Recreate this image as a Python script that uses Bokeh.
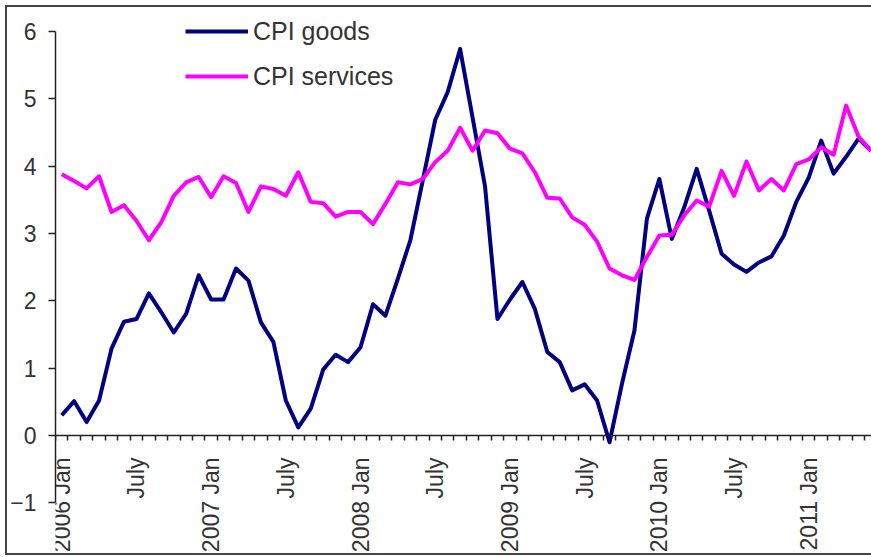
import math
from bokeh.plotting import figure
from bokeh.models import FixedTicker, Legend, LegendItem, Range1d
from bokeh.embed import file_html
from bokeh.resources import INLINE

# Monthly index: 0 = 2006 Jan ... 65 = 2011 Jun
months = list(range(66))

cpi_goods = [0.30, 0.51, 0.20, 0.52, 1.29, 1.69, 1.73, 2.11, 1.83, 1.53,
             1.81, 2.38, 2.02, 2.02, 2.48, 2.30, 1.68, 1.39, 0.52, 0.12,
             0.40, 0.98, 1.20, 1.09, 1.31, 1.95, 1.78, 2.33, 2.90, 3.79,
             4.69, 5.10, 5.74, 4.72, 3.70, 1.73, 2.02, 2.28, 1.88, 1.24,
             1.09, 0.67, 0.76, 0.52, -0.10, 0.77, 1.56, 3.22, 3.81, 2.92,
             3.39, 3.96, 3.34, 2.70, 2.54, 2.43, 2.57, 2.66, 2.97, 3.47,
             3.83, 4.38, 3.89, 4.14, 4.41, 4.23]

cpi_services = [3.88, 3.78, 3.67, 3.85, 3.32, 3.42, 3.19, 2.90, 3.17, 3.56,
                3.76, 3.84, 3.54, 3.85, 3.75, 3.32, 3.70, 3.66, 3.56, 3.91,
                3.47, 3.45, 3.25, 3.32, 3.32, 3.14, 3.44, 3.76, 3.73, 3.81,
                4.06, 4.23, 4.57, 4.23, 4.53, 4.49, 4.26, 4.19, 3.91, 3.53,
                3.52, 3.24, 3.13, 2.88, 2.48, 2.38, 2.31, 2.65, 2.97, 2.98,
                3.27, 3.49, 3.40, 3.93, 3.56, 4.07, 3.64, 3.81, 3.64, 4.03,
                4.10, 4.28, 4.17, 4.90, 4.44, 4.23]

x_tick_pos = [0, 6, 12, 18, 24, 30, 36, 42, 48, 54, 60]
x_tick_labels = ["2006 Jan", "July", "2007 Jan", "July", "2008 Jan", "July",
                 "2009 Jan", "July", "2010 Jan", "July", "2011 Jan"]
y_ticks = [-1, 0, 1, 2, 3, 4, 5, 6]

series_names = ["CPI goods", "CPI services"]
series_colors = ["#000080", "#FF00FF"]

FONT = "Liberation Sans"

p = figure(width=871, height=557, output_backend="svg", toolbar_location=None,
           x_range=Range1d(-0.5, 65.04), y_range=Range1d(-1.812, 6.342),
           min_border_left=55, min_border_right=0, min_border_top=8,
           min_border_bottom=0)
p.styles = {"box-shadow": ("inset 5px 0 0 #ffffff, inset 0 5px 0 #ffffff, "
                           "inset 0 -2px 0 #ffffff, "
                           "inset 7px 0 0 #444444, inset 0 7px 0 #444444, "
                           "inset 0 -4px 0 #444444")}
p.background_fill_alpha = 0
p.border_fill_alpha = 0
p.outline_line_color = None
p.grid.visible = False

r1 = p.line(months, cpi_goods, line_color=series_colors[0], line_width=4,
            line_join="round")
r2 = p.line(months, cpi_services, line_color=series_colors[1], line_width=4,
            line_join="round")

# x axis fixed at y = 0
xa = p.xaxis[0]
xa.fixed_location = 0
xa.ticker = FixedTicker(ticks=x_tick_pos,
                        minor_ticks=[m - 0.5 for m in range(0, 67)])
xa.major_label_overrides = {pos: lab for pos, lab in zip(x_tick_pos, x_tick_labels)}
xa.major_label_orientation = math.pi / 2
xa.major_tick_out = 0
xa.major_tick_in = 0
xa.minor_tick_out = 5
xa.minor_tick_in = 0
xa.minor_tick_line_color = "#222222"
xa.minor_tick_line_width = 1.5
xa.axis_line_color = "#222222"
xa.axis_line_width = 1.5
xa.major_label_standoff = 17
xa.major_label_text_font = FONT
xa.major_label_text_font_size = "23px"
xa.major_label_text_color = "#333333"

ya = p.yaxis[0]
ya.bounds = (-1, 6)
ya.ticker = FixedTicker(ticks=y_ticks, minor_ticks=[])
ya.major_tick_out = 7
ya.major_tick_in = 0
ya.major_tick_line_color = "#222222"
ya.major_tick_line_width = 1.5
ya.axis_line_color = "#222222"
ya.axis_line_width = 1.5
ya.major_label_standoff = 12
ya.major_label_text_font = FONT
ya.major_label_text_font_size = "23px"
ya.major_label_text_color = "#333333"

legend = Legend(items=[LegendItem(label=series_names[0], renderers=[r1]),
                       LegendItem(label=series_names[1], renderers=[r2])],
                location=(130, 466), orientation="vertical")
legend.glyph_width = 63
legend.glyph_height = 30
legend.label_height = 30
legend.spacing = 15
legend.padding = 0
legend.margin = 0
legend.label_standoff = 5
legend.border_line_color = None
legend.background_fill_alpha = 0
legend.label_text_font = FONT
legend.label_text_font_size = "25px"
legend.label_text_color = "#333333"
p.add_layout(legend)

open("out.html", "w").write(file_html(p, INLINE))
